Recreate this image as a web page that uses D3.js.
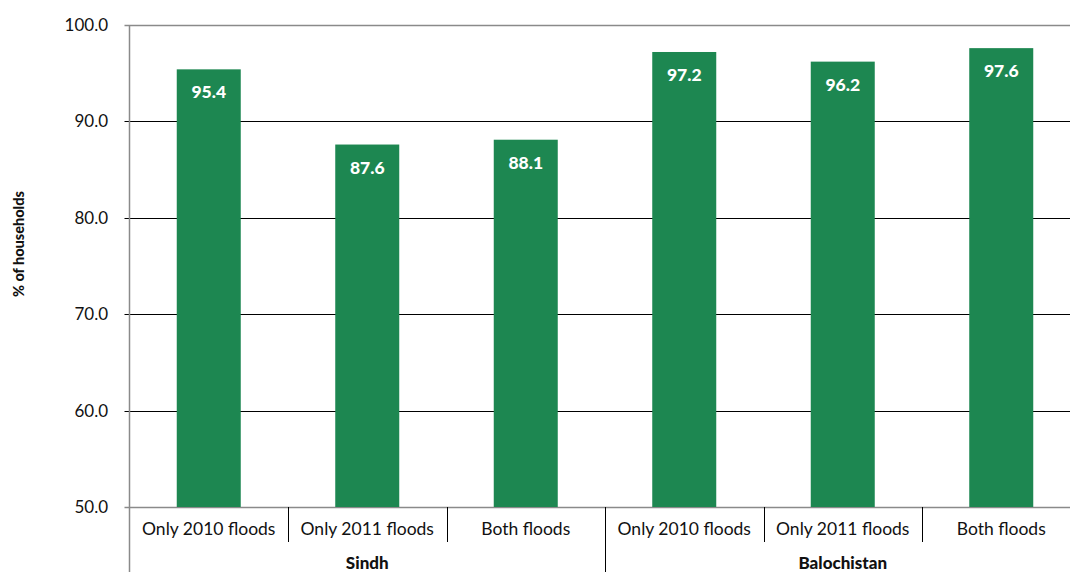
<!DOCTYPE html>
<html><head><meta charset="utf-8">
<script src="https://cdn.jsdelivr.net/npm/d3@7"></script>
<style>body{margin:0;background:#fff;overflow:hidden}svg{display:block}text{font-family:"Source Sans Pro",Lato,"Open Sans",sans-serif}</style>
</head><body>
<script>
const groups = ["Sindh", "Balochistan"];
const categories = ["Only 2010 floods", "Only 2011 floods", "Both floods"];
const values = [95.4, 87.6, 88.1, 97.2, 96.2, 97.6];
const yTicks = [50, 60, 70, 80, 90, 100];

const W = 1070, H = 572;
const svg = d3.select("body").append("svg").attr("width", W).attr("height", H);
const mLeft = 129.5, mRight = 1080.5, mTop = 25, mBottom = 507;
const keys = d3.range(values.length);
const x = d3.scaleBand().domain(keys).range([mLeft, mRight]).paddingInner(0).paddingOuter(0);
const y = d3.scaleLinear().domain([50, 100]).range([mBottom, mTop]);
const barW = 64;

// gridlines
svg.append("g").selectAll("line").data(yTicks).join("line")
  .attr("x1", mLeft - 5).attr("x2", mRight)
  .attr("y1", d => Math.round(y(d)) + 0.5).attr("y2", d => Math.round(y(d)) + 0.5)
  .attr("stroke", d => (d === 100 || d === 50) ? "#8a8a8a" : "#000")
  .attr("stroke-width", d => (d === 100 || d === 50) ? 1.5 : 1);

// tick labels
svg.append("g").selectAll("text").data(yTicks).join("text")
  .attr("x", 108).attr("y", d => y(d)).attr("dy", "0.35em")
  .attr("text-anchor", "end").attr("font-size", 17).attr("fill", "#111")
  .text(d => d.toFixed(1));

// bars
svg.append("g").selectAll("rect").data(keys).join("rect")
  .attr("x", i => x(i) + (x.bandwidth() - barW) / 2).attr("width", barW)
  .attr("y", i => y(values[i])).attr("height", i => y(50) - y(values[i]))
  .attr("fill", "#1d8751");

// value labels
svg.append("g").selectAll("text").data(keys).join("text")
  .attr("x", i => x(i) + x.bandwidth() / 2).attr("y", i => y(values[i]) + 29)
  .attr("text-anchor", "middle").attr("font-size", 17.5).attr("font-weight", "900").attr("fill", "#fff")
  .text(i => values[i].toFixed(1));

// y axis line
svg.append("line").attr("x1", mLeft).attr("x2", mLeft).attr("y1", mTop).attr("y2", H)
  .attr("stroke", "#8a8a8a").attr("stroke-width", 1.5);

// category separators
svg.append("g").selectAll("line").data(keys.filter(i => i % 3 !== 0)).join("line")
  .attr("x1", i => Math.round(x(i)) + 0.5).attr("x2", i => Math.round(x(i)) + 0.5)
  .attr("y1", mBottom).attr("y2", 542).attr("stroke", "#000");
// group separators
svg.append("g").selectAll("line").data(keys.filter(i => i % 3 === 0 && i > 0)).join("line")
  .attr("x1", i => Math.round(x(i)) + 0.5).attr("x2", i => Math.round(x(i)) + 0.5)
  .attr("y1", mBottom).attr("y2", H).attr("stroke", "#000");

// category labels
svg.append("g").selectAll("text").data(keys).join("text")
  .attr("x", i => x(i) + x.bandwidth() / 2).attr("y", 535)
  .attr("text-anchor", "middle").attr("font-size", 17.5).attr("fill", "#111")
  .text(i => categories[i % 3]);

// group labels
svg.append("g").selectAll("text").data(groups).join("text")
  .attr("x", (d, g) => (x(g * 3) + x(g * 3 + 2) + x.bandwidth()) / 2).attr("y", 569)
  .attr("text-anchor", "middle").attr("font-size", 17).attr("font-weight", "900").attr("fill", "#111")
  .text(d => d);

// y title
svg.append("text").attr("transform", "translate(24,244) rotate(-90)")
  .attr("text-anchor", "middle").attr("font-size", 14.5).attr("font-weight", "900").attr("fill", "#111")
  .text("% of households");
</script>
</body></html>
